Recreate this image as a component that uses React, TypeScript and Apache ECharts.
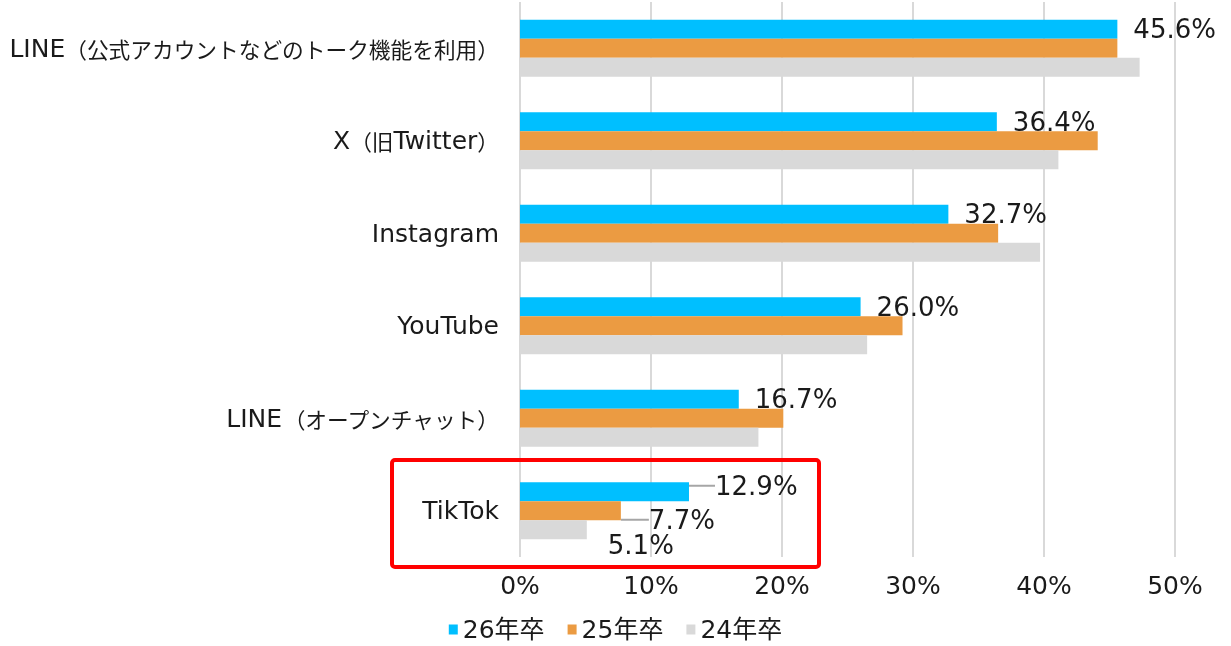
import React, { useEffect, useRef } from "react";
import * as echarts from "echarts";

const categories = [
  "LINE（公式アカウントなどのトーク機能を利用）",
  "X（旧Twitter）",
  "Instagram",
  "YouTube",
  "LINE（オープンチャット）",
  "TikTok",
];
const seriesNames = ["26年卒", "25年卒", "24年卒"];
const values26 = [45.6, 36.4, 32.7, 26.0, 16.7, 12.9];
const values25 = [45.6, 44.1, 36.5, 29.2, 20.1, 7.7];
const values24 = [47.3, 41.1, 39.7, 26.5, 18.2, 5.1];
const xTicks = [0, 10, 20, 30, 40, 50];
const highlightCategory = "TikTok";

const colors = ["#00BFFF", "#EB9B42", "#D9D9D9"];
const LATIN = '"DejaVu Sans", "Noto Sans CJK JP", sans-serif';
const CJK = '"Noto Sans CJK JP", sans-serif';

function richLabel(s: string): string {
  return s.replace(/[\u3000-\u9fff\uff00-\uffef]+/g, (m) => `{j|${m}}`);
}

export default function App() {
  const ref = useRef<HTMLDivElement>(null);
  useEffect(() => {
    if (!ref.current) return;
    const chart = echarts.init(ref.current, null, { renderer: "svg" });
    const hi = categories.indexOf(highlightCategory);
    const fmt = (p: any) => Number(p.value).toFixed(1) + "%";
    const labelBase = {
      position: "right",
      distance: 16,
      fontSize: 26,
      fontFamily: LATIN,
      color: "#1a1a1a",
      formatter: fmt,
    };
    const labelLineStyle = { lineStyle: { color: "#A6A6A6", width: 2 } };
    const offsets: Record<number, { dx: number; dy: number }> = {
      0: { dx: 10, dy: -6 },
      1: { dx: 12, dy: 9 },
      2: { dx: 5, dy: 15 },
    };
    const allSeries = [values26, values25, values24].map((vals, si) => ({
      name: seriesNames[si],
      type: "bar",
      barWidth: 19,
      barGap: "0%",
      itemStyle: { color: colors[si] },
      label: { ...labelBase, show: si === 0 },
      labelLine: { show: false, ...labelLineStyle },
      data: vals.map((v, i) =>
        i === hi
          ? {
              value: v,
              label: { show: true },
              labelLine: { show: si !== 2, ...labelLineStyle },
            }
          : v
      ),
      labelLayout: (params: any) =>
        params.dataIndex === hi ? offsets[si] : {},
    }));

    chart.setOption({
      animation: false,
      grid: { left: 520, right: 56, top: 2, bottom: 89, containLabel: false },
      xAxis: {
        type: "value",
        min: xTicks[0],
        max: xTicks[xTicks.length - 1],
        interval: xTicks[1] - xTicks[0],
        axisLine: { show: false },
        axisTick: { show: false },
        splitLine: { show: true, lineStyle: { color: "#D9D9D9", width: 2 } },
        axisLabel: {
          formatter: "{value}%",
          fontSize: 25,
          fontFamily: LATIN,
          color: "#1a1a1a",
          margin: 16,
        },
      },
      yAxis: {
        type: "category",
        inverse: true,
        data: categories,
        axisLine: { show: false },
        axisTick: { show: false },
        splitLine: { show: false },
        axisLabel: {
          margin: 21,
          fontSize: 25,
          fontFamily: LATIN,
          color: "#1a1a1a",
          formatter: (v: string) => richLabel(v),
          rich: {
            j: { fontSize: 21.7, fontFamily: CJK, color: "#1a1a1a" },
          },
        },
      },
      legend: {
        data: seriesNames,
        left: "center",
        top: 612,
        itemWidth: 9,
        itemHeight: 10,
        itemGap: 23,
        icon: "rect",
        textStyle: { fontSize: 25, fontFamily: LATIN, color: "#1a1a1a" },
      },
      series: allSeries,
      graphic: [
        {
          type: "rect",
          shape: { x: 392, y: 460, width: 427, height: 107, r: 3 },
          style: { fill: "none", stroke: "#FF0000", lineWidth: 4 },
          z: 100,
        },
      ],
    });
    return () => chart.dispose();
  }, []);
  return (
    <div
      ref={ref}
      style={{ position: "fixed", left: 0, top: 0, width: 1231, height: 646 }}
    />
  );
}
